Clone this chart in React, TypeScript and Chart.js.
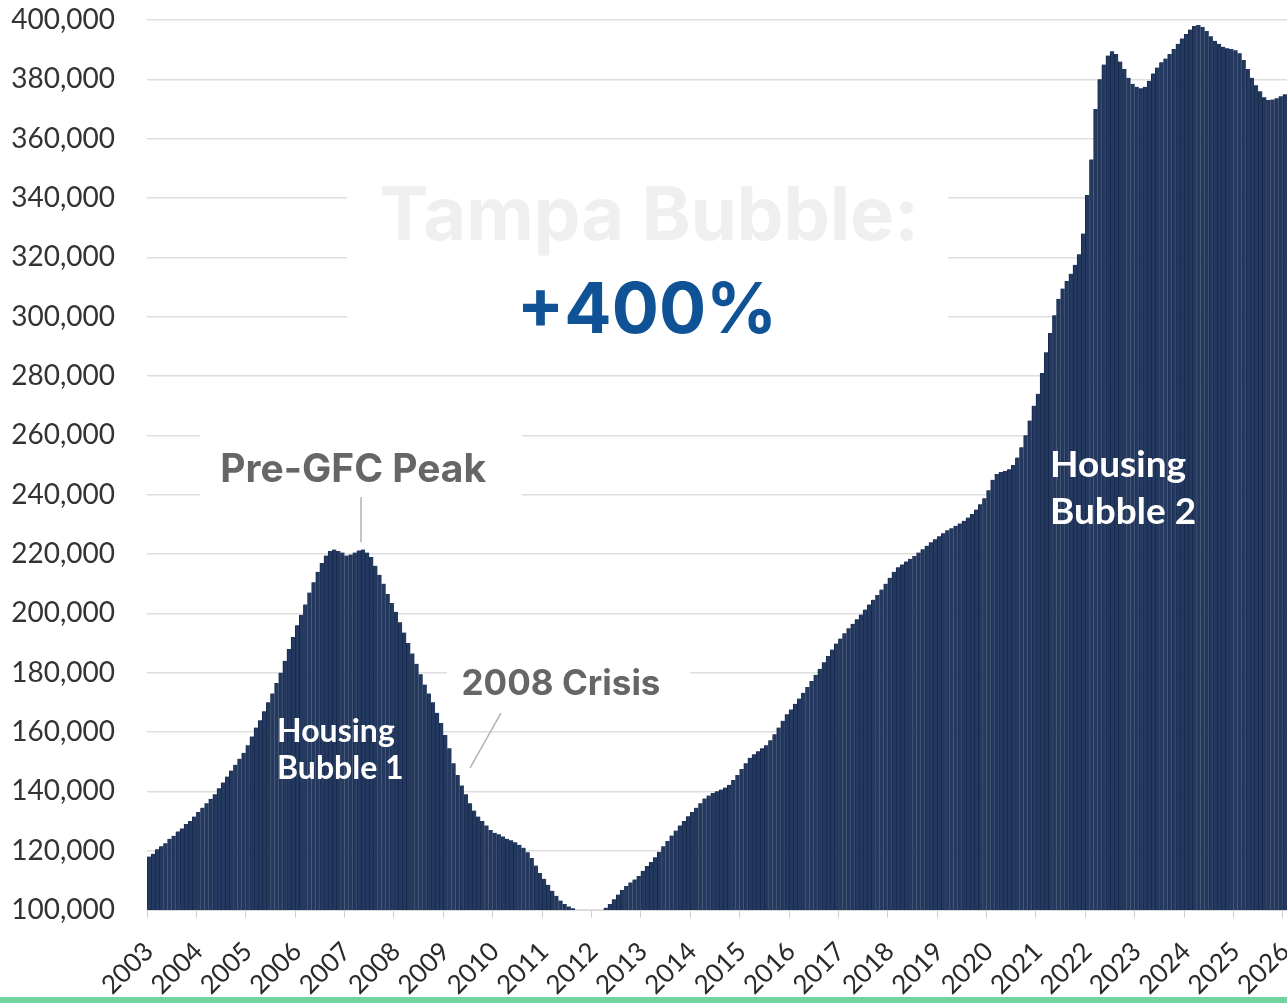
import React, { useEffect, useRef } from 'react';
import { Chart, registerables } from 'chart.js';

Chart.register(...registerables);

// Monthly median home values (thousands of $), Jan 2003 – Jan 2026
const y2003 = [118, 119, 120.5, 121.5, 122.5, 124, 125, 126.5, 127.5, 129, 130, 131.5];
const y2004 = [133, 134.5, 136, 137.5, 139, 141, 143, 145, 147, 149, 151, 153];
const y2005 = [155.5, 158.5, 161.5, 164, 167, 170, 173, 176.5, 180, 184, 188, 192];
const y2006 = [196, 199.5, 203, 207, 210.5, 214, 217, 219.5, 221, 221.5, 221, 220.5];
const y2007 = [219.5, 219.8, 220.5, 221.2, 221.5, 220.5, 219, 216, 213, 210, 206.5, 203.5];
const y2008 = [200.5, 197, 193.5, 190, 186.5, 183, 179.5, 176, 173, 170, 166.5, 163];
const y2009 = [159, 154.5, 149.5, 145.5, 142, 139, 136, 133.5, 131.5, 130, 128.5, 127];
const y2010 = [126, 125.5, 124.8, 124, 123.5, 122.8, 122, 121, 119.5, 117.5, 115, 112.5];
const y2011 = [110.5, 108.5, 106.5, 104.8, 103.2, 102, 101.2, 100.6, 99.8, 99.5, 99.3, 99.2];
const y2012 = [99.2, 99.5, 99.9, 100.8, 102, 103.6, 105.2, 106.7, 108.1, 109.3, 110.3, 111.5];
const y2013 = [113.2, 114.8, 116.2, 117.8, 119.6, 121.5, 123.3, 125.1, 126.8, 128.5, 130, 131.6];
const y2014 = [133, 134.5, 136, 137.6, 138.6, 139.4, 140, 140.6, 141.3, 142.2, 143.8, 145.5];
const y2015 = [147.5, 149.5, 151.3, 152.5, 153.5, 154.5, 155.5, 157.2, 159.2, 161.5, 163.8, 166];
const y2016 = [167.6, 169.5, 171.3, 173.2, 175.2, 177.2, 179.3, 181.3, 183.5, 185.6, 187.8, 189.8];
const y2017 = [191.5, 193.3, 195, 196.5, 198, 199.6, 201.3, 203, 204.6, 206.2, 208, 210];
const y2018 = [212, 214, 215.5, 216.5, 217.5, 218.4, 219.3, 220.5, 221.6, 222.8, 224, 225];
const y2019 = [226, 227, 228, 228.7, 229.5, 230.3, 231.2, 232.3, 233.5, 235, 236.8, 238.8];
const y2020 = [241.5, 245, 247, 247.6, 248, 248.6, 250, 252.5, 256, 260, 265, 270];
const y2021 = [274, 281, 288, 294.5, 300.5, 306, 309.5, 312, 314.5, 317.5, 321, 328];
const y2022 = [341, 353, 370, 380, 385, 388, 389.5, 388.5, 386, 383.5, 380.5, 378.5];
const y2023 = [377.5, 377, 377.5, 379.5, 382, 384, 385.8, 387, 388.5, 390.2, 392, 393.8];
const y2024 = [395.3, 396.8, 398, 398.3, 397.6, 396.3, 394.5, 393, 392, 391, 390.5, 390.2];
const y2025 = [389.8, 388.8, 386.5, 383.5, 380.5, 378, 376, 374, 373, 373.2, 373.6, 374.3];
const y2026 = [375];

const YEAR_SERIES = [
  y2003, y2004, y2005, y2006, y2007, y2008, y2009, y2010, y2011, y2012, y2013, y2014,
  y2015, y2016, y2017, y2018, y2019, y2020, y2021, y2022, y2023, y2024, y2025, y2026,
];
const YEAR_LABELS = [
  '2003', '2004', '2005', '2006', '2007', '2008', '2009', '2010', '2011', '2012', '2013', '2014',
  '2015', '2016', '2017', '2018', '2019', '2020', '2021', '2022', '2023', '2024', '2025', '2026',
];

const Y_MIN = 100000;
const Y_MAX = 400000;
const Y_STEP = 20000;

// Annotation anchors in data space (x = month index, y = value)
const BOXES = [
  { x0: 48.1, x1: 194.1, y0: 356200, y1: 288800 },
  { x0: 12.4, x1: 90.6, y0: 263500, y1: 236500 },
  { x0: 72.4, x1: 131.4, y0: 188300, y1: 169100 },
];
const TEXTS = [
  { text: 'Tampa Bubble:', x: 121.5, y: 325800, font: '700 74px Inter', color: '#efefef', align: 'center' },
  { text: '+400%', x: 121.0, y: 294500, font: '700 70px Inter', color: '#0f5396', align: 'center' },
  { text: 'Pre-GFC Peak', x: 49.6, y: 244300, font: '700 39px Inter', color: '#666666', align: 'center' },
  { text: '2008 Crisis', x: 100.1, y: 172500, font: '700 35px Inter', color: '#666666', align: 'center' },
  { text: 'Housing', x: 31.1, y: 156600, font: '700 32px Lato', color: '#ffffff', align: 'left' },
  { text: 'Bubble 1', x: 31.1, y: 144200, font: '700 32px Lato', color: '#ffffff', align: 'left' },
  { text: 'Housing', x: 218.9, y: 245900, font: '700 37px Lato', color: '#ffffff', align: 'left' },
  { text: 'Bubble 2', x: 218.9, y: 230100, font: '700 37px Lato', color: '#ffffff', align: 'left' },
];
const LINES = [
  { x0: 51.5, y0: 239200, x1: 51.5, y1: 224000 },
  { x0: 85.5, y0: 166400, x1: 78, y1: 147900 },
];

export default function App() {
  const ref = useRef<HTMLCanvasElement>(null);

  useEffect(() => {
    const canvas = ref.current;
    if (!canvas) return;

    const values: number[] = [];
    const labels: string[] = [];
    YEAR_SERIES.forEach((arr, yi) => {
      arr.forEach((v, mi) => {
        values.push(v * 1000);
        labels.push(`${YEAR_LABELS[yi]}-${String(mi + 1).padStart(2, '0')}`);
      });
    });

    const annotPlugin = {
      id: 'annot',
      beforeDatasetsDraw(chart: any) {
        const { ctx, scales } = chart;
        const xs = scales.x;
        const ys = scales.y;
        ctx.save();
        ctx.fillStyle = '#ffffff';
        BOXES.forEach((b) => {
          const x0 = xs.getPixelForValue(b.x0);
          const x1 = xs.getPixelForValue(b.x1);
          const y0 = ys.getPixelForValue(b.y0);
          const y1 = ys.getPixelForValue(b.y1);
          ctx.fillRect(x0, y0, x1 - x0, y1 - y0);
        });
        ctx.restore();
      },
      afterDatasetsDraw(chart: any) {
        const { ctx, scales } = chart;
        const xs = scales.x;
        const ys = scales.y;
        ctx.save();
        ctx.strokeStyle = '#b3b3b3';
        ctx.lineWidth = 1.5;
        LINES.forEach((l) => {
          ctx.beginPath();
          ctx.moveTo(xs.getPixelForValue(l.x0), ys.getPixelForValue(l.y0));
          ctx.lineTo(xs.getPixelForValue(l.x1), ys.getPixelForValue(l.y1));
          ctx.stroke();
        });
        ctx.textBaseline = 'alphabetic';
        TEXTS.forEach((t) => {
          ctx.font = t.font;
          ctx.fillStyle = t.color;
          ctx.textAlign = t.align as CanvasTextAlign;
          ctx.fillText(t.text, xs.getPixelForValue(t.x), ys.getPixelForValue(t.y));
        });
        ctx.restore();
      },
    };

    const chart = new Chart(canvas, {
      type: 'bar',
      data: {
        labels,
        datasets: [
          {
            data: values,
            backgroundColor: '#24395f',
            borderColor: '#17294b',
            borderWidth: { left: 1, right: 0, top: 0, bottom: 0 },
            borderSkipped: false,
            barPercentage: 1,
            categoryPercentage: 1,
          },
        ],
      },
      options: {
        responsive: false,
        animation: false,
        layout: { padding: { top: 20, right: 0, left: 0, bottom: 0 } },
        plugins: {
          legend: { display: false },
          tooltip: { enabled: false },
          title: { display: false },
        },
        scales: {
          x: {
            type: 'category',
            offset: true,
            border: { display: true, color: '#d9d9d9', width: 1 },
            grid: {
              offset: true,
              drawOnChartArea: false,
              drawTicks: true,
              tickLength: 8,
              color: (c: any) => (c.index % 12 === 0 ? '#d0d0d0' : 'rgba(0,0,0,0)'),
            },
            ticks: {
              autoSkip: false,
              maxRotation: 45,
              minRotation: 45,
              padding: 18,
              color: '#2a2a2a',
              font: { family: 'Lato', size: 26 },
              callback: (_v: any, i: number) => (i % 12 === 0 ? YEAR_LABELS[i / 12] : ''),
            },
            afterFit: (s: any) => {
              s.height = 93;
              s.paddingLeft = 0;
              s.paddingRight = 0;
            },
          },
          y: {
            min: Y_MIN,
            max: Y_MAX,
            border: { display: false },
            grid: { color: '#dedede', lineWidth: 1.5, drawTicks: false },
            ticks: {
              stepSize: Y_STEP,
              padding: 32,
              color: '#333333',
              font: { family: 'Lato', size: 28 },
              callback: (v: any) => Number(v).toLocaleString('en-US'),
            },
            afterFit: (s: any) => {
              s.width = 147;
              s.paddingTop = 0;
              s.paddingBottom = 0;
            },
          },
        },
      },
      plugins: [annotPlugin],
    });

    return () => chart.destroy();
  }, []);

  return (
    <div style={{ position: 'absolute', left: 0, top: 0, width: 1287, height: 1003, background: '#ffffff', overflow: 'hidden' }}>
      <canvas ref={ref} width={1287} height={1003} style={{ display: 'block' }} />
      <div style={{ position: 'absolute', left: 0, top: 997, width: 1287, height: 6, background: '#6fd49d' }} />
    </div>
  );
}
